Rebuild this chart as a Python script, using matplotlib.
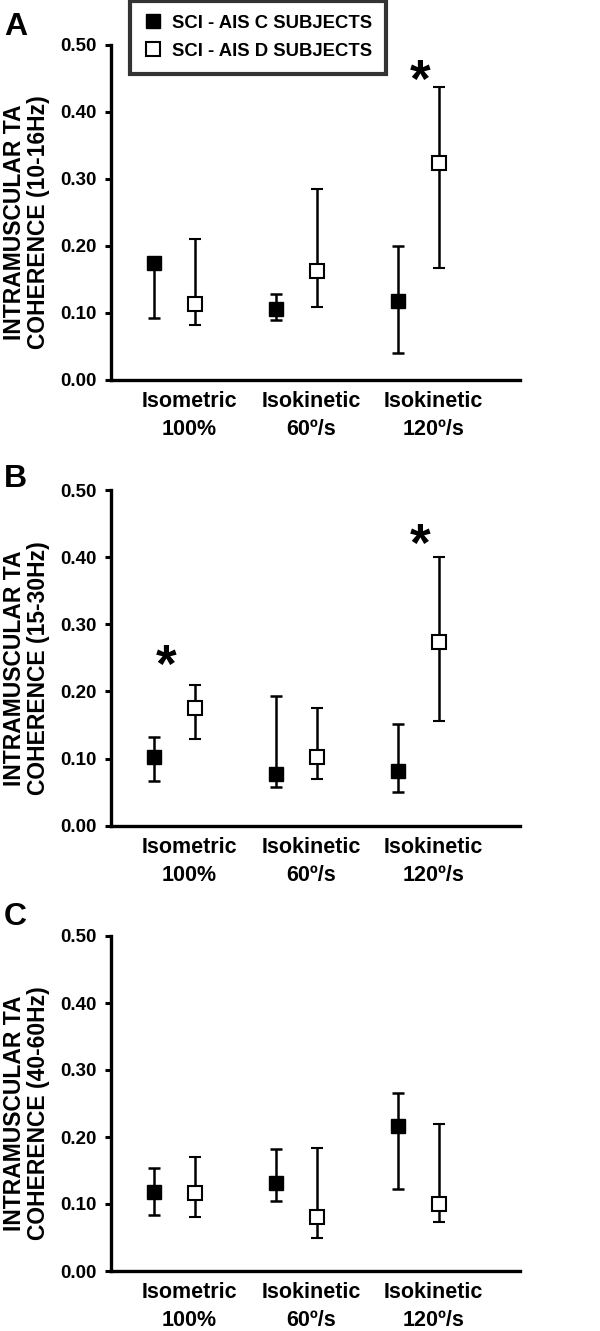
import numpy as np
import matplotlib
matplotlib.use("Agg")
import matplotlib.pyplot as plt
from matplotlib.lines import Line2D

plt.rcParams['font.family'] = ['Liberation Sans', 'DejaVu Sans']
plt.rcParams['font.weight'] = 'bold'

conditions = ["Isometric\n100%", "Isokinetic\n60º/s", "Isokinetic\n120º/s"]
series = ["SCI - AIS C SUBJECTS", "SCI - AIS D SUBJECTS"]
panel_letters = ["A", "B", "C"]
ylabels = ["INTRAMUSCULAR TA\nCOHERENCE (10-16Hz)",
           "INTRAMUSCULAR TA\nCOHERENCE (15-30Hz)",
           "INTRAMUSCULAR TA\nCOHERENCE (40-60Hz)"]

# Panel A (10-16 Hz)
a_c_mean = [0.174, 0.106, 0.118]
a_c_low = [0.092, 0.089, 0.040]
a_c_high = [0.180, 0.128, 0.200]
a_d_mean = [0.113, 0.163, 0.324]
a_d_low = [0.082, 0.109, 0.167]
a_d_high = [0.210, 0.285, 0.437]
# Panel B (15-30 Hz)
b_c_mean = [0.103, 0.077, 0.081]
b_c_low = [0.066, 0.057, 0.050]
b_c_high = [0.132, 0.193, 0.152]
b_d_mean = [0.176, 0.103, 0.274]
b_d_low = [0.129, 0.070, 0.156]
b_d_high = [0.209, 0.176, 0.400]
# Panel C (40-60 Hz)
c_c_mean = [0.118, 0.132, 0.216]
c_c_low = [0.083, 0.104, 0.123]
c_c_high = [0.153, 0.182, 0.266]
c_d_mean = [0.116, 0.080, 0.100]
c_d_low = [0.081, 0.050, 0.073]
c_d_high = [0.170, 0.183, 0.220]

# significance markers: (condition index, y value)
a_stars = [(2, 0.459)]
b_stars = [(0, 0.251), (2, 0.431)]
c_stars = []

yticks = [0.0, 0.1, 0.2, 0.3, 0.4, 0.5]

panels = [
    (a_c_mean, a_c_low, a_c_high, a_d_mean, a_d_low, a_d_high, a_stars),
    (b_c_mean, b_c_low, b_c_high, b_d_mean, b_d_low, b_d_high, b_stars),
    (c_c_mean, c_c_low, c_c_high, c_d_mean, c_d_low, c_d_high, c_stars),
]

W, H = 600, 1331
fig = plt.figure(figsize=(W / 100, H / 100), dpi=100)

# axes boxes in pixels: (top of 0.50, bottom at 0.00)
boxes = [(44.5, 380.0), (490.0, 825.7), (936.0, 1271.0)]
letter_base = [35, 487, 925]
ax_left, ax_right = 111, 520

base = np.arange(3)
xc = base + 0.35
xd = base + 0.69
xlab = base + 0.64
star_dx = [0.45, 0.52, 0.53]

for k, (pan, (ytop, ybot)) in enumerate(zip(panels, boxes)):
    cm, cl, ch, dm, dl, dh, stars = pan
    ax = fig.add_axes([ax_left / W, 1 - ybot / H, (ax_right - ax_left) / W, (ybot - ytop) / H])
    cm, cl, ch = map(np.array, (cm, cl, ch))
    dm, dl, dh = map(np.array, (dm, dl, dh))
    ax.errorbar(xc, cm, yerr=[cm - cl, ch - cm], fmt='s', color='black',
                mfc='black', mec='black', ms=9.5, elinewidth=1.8, capsize=4.3,
                capthick=1.8, zorder=3)
    ax.errorbar(xd, dm, yerr=[dm - dl, dh - dm], fmt='s', color='black',
                mfc='white', mec='black', mew=1.5, ms=9.5, elinewidth=1.8,
                capsize=4.3, capthick=1.8, zorder=3)
    for (i, yv) in stars:
        ax.annotate('*', xy=(base[i] + star_dx[i], yv), xytext=(0, -8),
                    textcoords='offset points', ha='center', va='center',
                    fontsize=38, fontweight='bold', annotation_clip=False)
    ax.set_xlim(0, 3.35)
    ax.set_ylim(0, 0.5)
    ax.set_yticks(yticks)
    ax.set_yticklabels([f"{v:.2f}" for v in yticks], fontsize=13.5, fontweight='bold')
    ax.set_xticks(xlab)
    ax.set_xticklabels(conditions, fontsize=15.5, fontweight='bold', linespacing=1.45)
    ax.tick_params(axis='x', length=0, pad=8)
    ax.tick_params(axis='y', direction='out', length=4, width=2.2, pad=6)
    for s in ('top', 'right'):
        ax.spines[s].set_visible(False)
    for s in ('left', 'bottom'):
        ax.spines[s].set_linewidth(2.4)
    ax.text(-0.207, 0.47, ylabels[k], transform=ax.transAxes, rotation=90,
            ha='center', va='center', multialignment='center', fontsize=16.5,
            fontweight='bold', linespacing=1.02)
    fig.text(4 / W, 1 - letter_base[k] / H, panel_letters[k], fontsize=23,
             fontweight='bold', va='baseline', ha='left')

handles = [
    Line2D([], [], ls='none', marker='s', mfc='black', mec='black', ms=9.5),
    Line2D([], [], ls='none', marker='s', mfc='white', mec='black', mew=1.5, ms=9.5),
]
leg = fig.legend(handles, series, loc='upper left', bbox_to_anchor=(130 / W, 1 - 1 / H),
                 frameon=True, fancybox=False, edgecolor='black',
                 prop={'weight': 'bold', 'size': 13.3}, handletextpad=0.55,
                 handlelength=1.0, borderpad=0.75, labelspacing=0.6, borderaxespad=0)
leg.get_frame().set_linewidth(3)

fig.savefig("out.png", dpi=100)
